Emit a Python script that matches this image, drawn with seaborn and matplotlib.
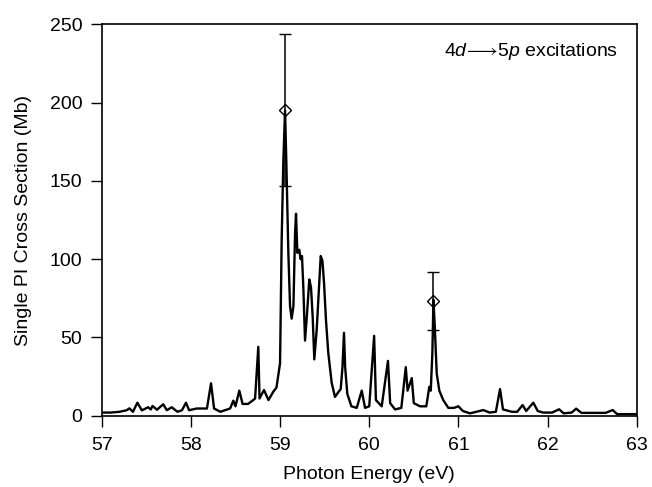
import numpy as np
import pandas as pd
import matplotlib
matplotlib.use("Agg")
import matplotlib.pyplot as plt
import seaborn as sns

FONT_SIZE = 14

# spectrum
energy = [
    57.00, 57.10, 57.20, 57.28, 57.31, 57.35, 57.40, 57.45, 57.52, 57.55,
    57.57, 57.62, 57.69, 57.73, 57.785, 57.85, 57.90, 57.945, 57.98, 58.065,
    58.18, 58.226, 58.26, 58.33, 58.44, 58.476, 58.50, 58.543, 58.58, 58.64,
    58.70, 58.72, 58.756, 58.77, 58.82, 58.87, 58.924, 58.96, 59.00, 59.018,
    59.037, 59.056, 59.07, 59.093, 59.112, 59.13, 59.15, 59.168, 59.179, 59.194,
    59.216, 59.23, 59.246, 59.261, 59.28, 59.30, 59.328, 59.347, 59.366, 59.384,
    59.411, 59.437, 59.456, 59.475, 59.493, 59.515, 59.541, 59.579, 59.616, 59.653,
    59.68, 59.70, 59.717, 59.73, 59.754, 59.80, 59.86, 59.916, 59.953, 60.00,
    60.055, 60.075, 60.14, 60.21, 60.235, 60.29, 60.36, 60.41, 60.43, 60.477,
    60.50, 60.57, 60.64, 60.674, 60.69, 60.708, 60.72, 60.735, 60.757, 60.786,
    60.83, 60.887, 60.95, 61.00, 61.05, 61.13, 61.28, 61.35, 61.42, 61.467,
    61.50, 61.60, 61.66, 61.72, 61.76, 61.84, 61.89, 61.95, 62.05, 62.13,
    62.18, 62.27, 62.32, 62.38, 62.50, 62.65, 62.73, 62.78, 62.90, 63.00,
]
cross_section = [
    2.0, 2.0, 2.5, 3.5, 4.7, 2.5, 8.3, 3.4, 5.4, 4.0,
    6.2, 3.8, 7.3, 3.5, 5.4, 2.5, 3.5, 8.3, 3.5, 4.6,
    4.6, 20.7, 4.6, 2.5, 4.6, 9.6, 6.0, 16.0, 7.5, 7.5,
    10.0, 11.0, 44.0, 11.0, 16.4, 10.0, 15.3, 18.0, 33.5, 112.0,
    163.0, 195.0, 163.0, 104.0, 70.0, 62.0, 70.0, 116.0, 129.0, 104.0,
    106.0, 100.0, 102.0, 82.0, 48.0, 63.0, 87.0, 82.0, 63.0, 36.0,
    55.0, 82.0, 102.0, 99.0, 85.0, 61.0, 40.0, 21.0, 12.0, 15.0,
    17.0, 31.0, 53.0, 31.0, 14.0, 6.0, 5.0, 16.0, 5.0, 6.0,
    51.0, 10.0, 6.0, 35.0, 8.0, 4.0, 5.0, 31.0, 16.0, 24.0,
    8.0, 6.0, 6.0, 18.5, 16.0, 40.0, 74.0, 57.0, 27.0, 16.0,
    10.0, 5.0, 5.0, 6.0, 3.0, 1.5, 3.6, 2.0, 2.5, 17.0,
    4.0, 2.5, 2.5, 6.8, 3.0, 8.3, 3.0, 2.0, 2.0, 4.1,
    1.5, 2.0, 4.5, 1.8, 1.8, 1.8, 3.6, 1.0, 1.0, 1.0,
]

# the two calibration points with error bars
err_energy = [59.055, 60.72]
err_value = [195.0, 73.5]
err_size = [48.5, 18.5]

xticks = [57, 58, 59, 60, 61, 62, 63]
yticks = [0, 50, 100, 150, 200, 250]

df = pd.DataFrame({"energy": energy, "xs": cross_section})

sns.set_style("ticks")
plt.rcParams["font.family"] = ["Liberation Sans", "DejaVu Sans"]
plt.rcParams["mathtext.fontset"] = "custom"
plt.rcParams["mathtext.rm"] = "Liberation Sans"
plt.rcParams["mathtext.it"] = "Liberation Sans:italic"
plt.rcParams["text.color"] = "black"
plt.rcParams["axes.labelcolor"] = "black"
plt.rcParams["xtick.color"] = "black"
plt.rcParams["ytick.color"] = "black"
plt.rc("font", size=FONT_SIZE)

fig = plt.figure(figsize=(6.52, 4.87), dpi=100)
ax = fig.add_axes([0.156, 0.1464, 0.8206, 0.8037])

sns.lineplot(data=df, x="energy", y="xs", estimator=None, sort=False,
             color="black", linewidth=1.7, ax=ax)
ax.errorbar(err_energy, err_value, yerr=err_size, fmt="D", color="black",
            mfc="none", mec="black", ms=6, mew=1.0, elinewidth=1.1,
            capsize=4.5, capthick=1.1, zorder=3)

ax.set_xlim(57, 63)
ax.set_ylim(0, 250)
ax.set_xticks(xticks)
ax.set_yticks(yticks)
for side in ["top", "right", "left", "bottom"]:
    ax.spines[side].set_visible(True)
    ax.spines[side].set_linewidth(1.2)
    ax.spines[side].set_color("black")
ax.tick_params(direction="out", length=8, width=1.0, color="black",
               labelcolor="black", labelsize=FONT_SIZE)
ax.tick_params(axis="x", pad=7)
ax.tick_params(axis="y", pad=6)

ax.set_xlabel("Photon Energy (eV)", fontsize=FONT_SIZE, labelpad=9)
ax.set_ylabel("Single PI Cross Section (Mb)", fontsize=FONT_SIZE, labelpad=13)
ax.text(0.965, 0.93,
        r"4$\mathit{d}\!\longrightarrow\!\mathrm{5}\mathit{p}$ excitations",
        transform=ax.transAxes, ha="right", va="center", fontsize=FONT_SIZE)

fig.savefig("out.png", dpi=100)
